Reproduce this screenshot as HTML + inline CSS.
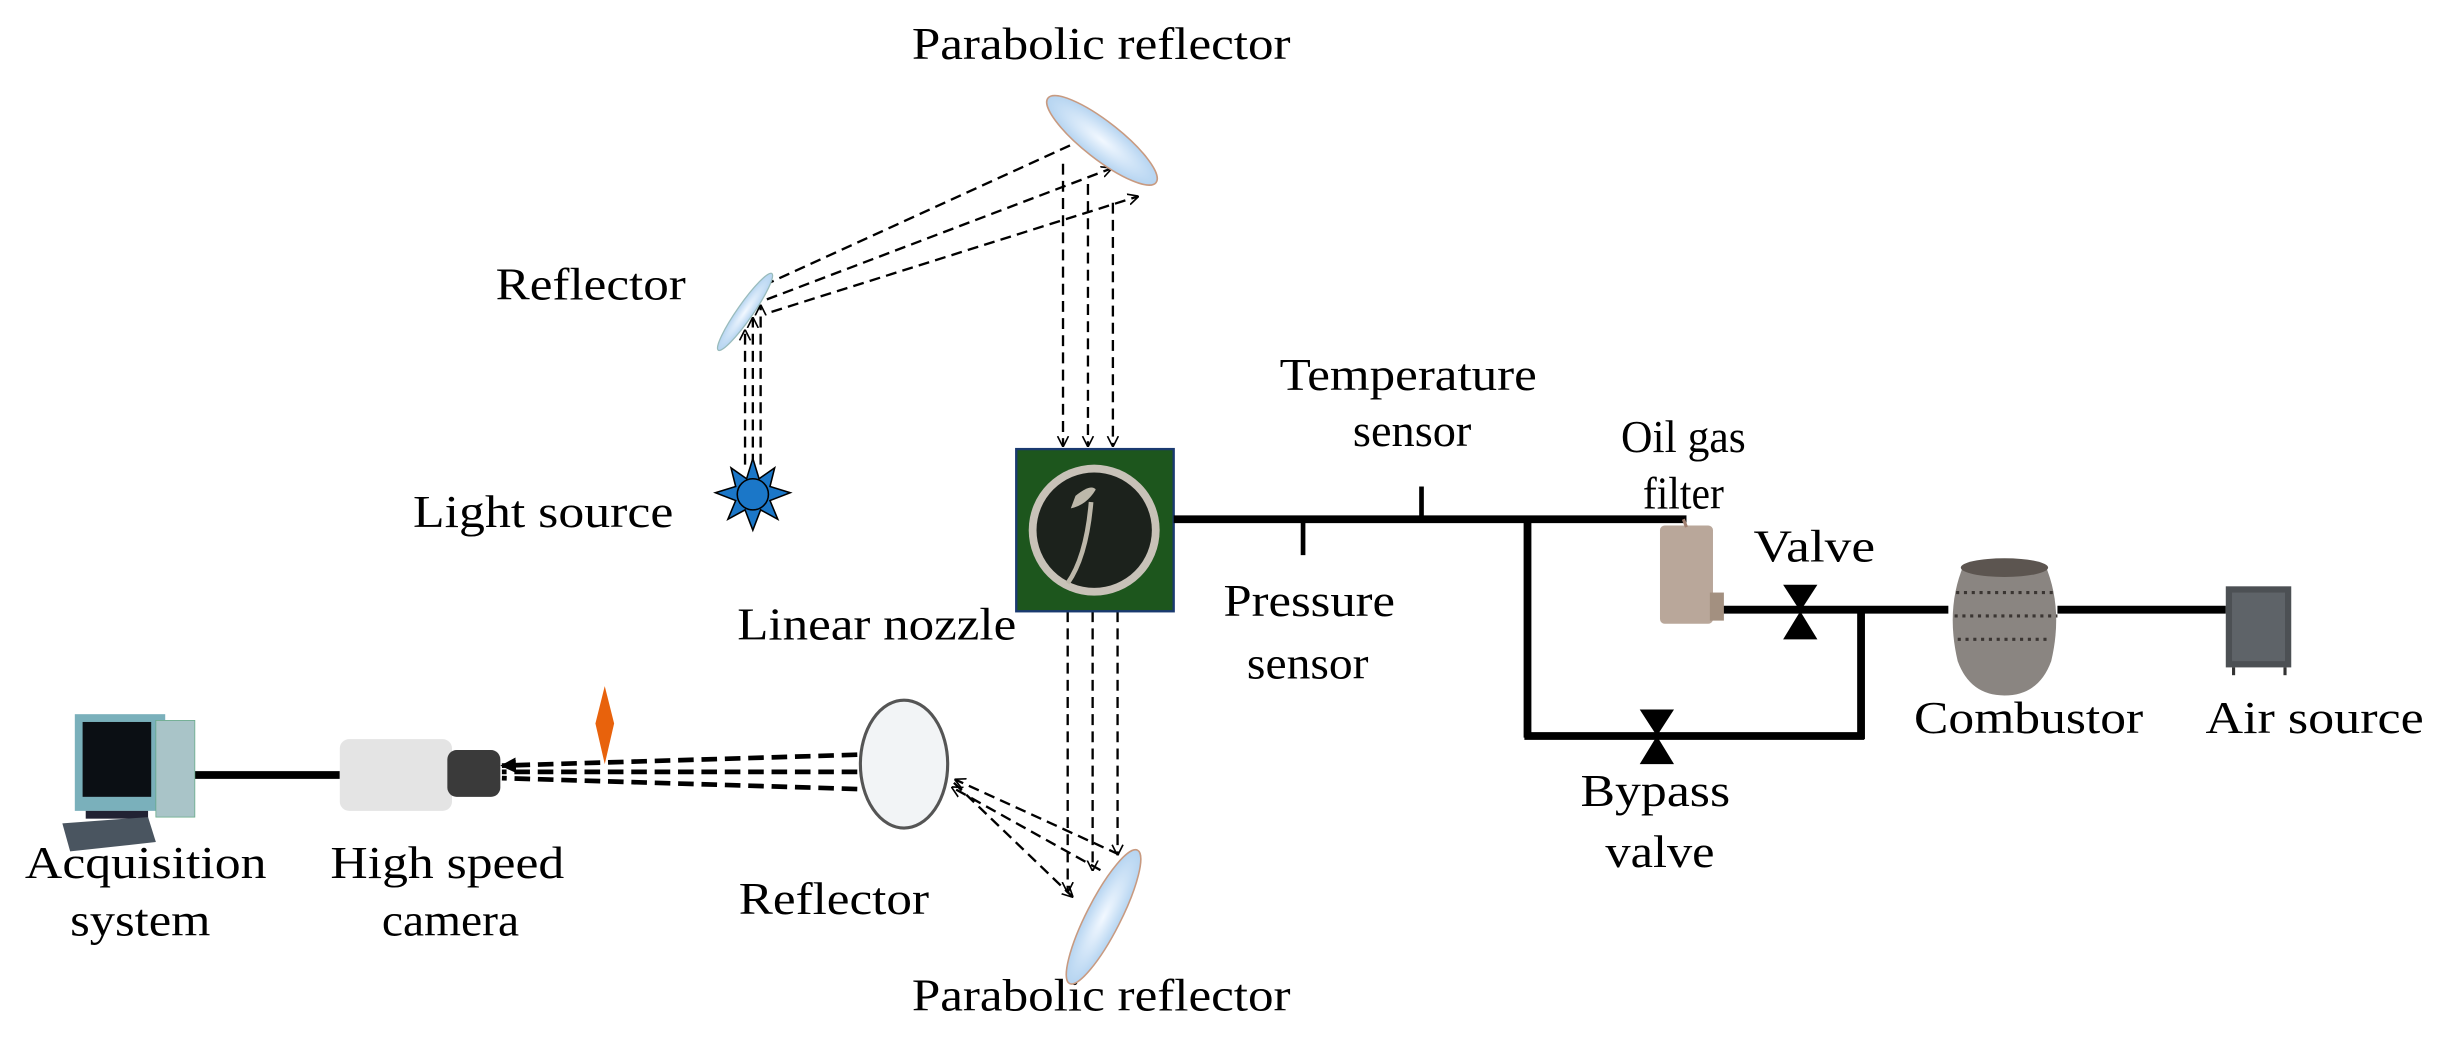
<!DOCTYPE html>
<html><head><meta charset="utf-8"><style>
html,body{margin:0;padding:0;background:#fff;}
svg{display:block;}
text{font-family:"Liberation Serif",serif;font-size:29px;fill:#000;}
</style></head><body>
<svg width="2444" height="1051" viewBox="0 0 1568 674" preserveAspectRatio="none" xmlns="http://www.w3.org/2000/svg">
<defs>
<marker id="a" viewBox="0 0 10 10" refX="9" refY="5" markerWidth="7" markerHeight="9" orient="auto" markerUnits="userSpaceOnUse"><path d="M0,0 L10,5 L0,10" fill="none" stroke="#000" stroke-width="1.5"/></marker>
<marker id="b" viewBox="0 0 10 10" refX="9" refY="5" markerWidth="10" markerHeight="10" orient="auto" markerUnits="userSpaceOnUse"><path d="M0,0 L10,5 L0,10 z" fill="#000"/></marker>
<radialGradient id="lens" cx="50%" cy="50%" r="60%"><stop offset="0" stop-color="#f2f8ff"/><stop offset="1" stop-color="#a9cdee"/></radialGradient>
</defs>
<rect width="1568" height="674" fill="#fff"/>

<g>
<text x="585" y="38" textLength="243" lengthAdjust="spacingAndGlyphs">Parabolic reflector</text>
<text x="318" y="192" textLength="122" lengthAdjust="spacingAndGlyphs">Reflector</text>
<text x="265" y="338" textLength="167" lengthAdjust="spacingAndGlyphs">Light source</text>
<text x="473" y="410" textLength="179" lengthAdjust="spacingAndGlyphs">Linear nozzle</text>
<text x="821" y="250" textLength="165" lengthAdjust="spacingAndGlyphs">Temperature</text>
<text x="868" y="286" textLength="76" lengthAdjust="spacingAndGlyphs">sensor</text>
<text x="1040" y="290" textLength="80" lengthAdjust="spacingAndGlyphs">Oil gas</text>
<text x="1054" y="326" textLength="52" lengthAdjust="spacingAndGlyphs">filter</text>
<text x="1125" y="360" textLength="78" lengthAdjust="spacingAndGlyphs">Valve</text>
<text x="785" y="395" textLength="110" lengthAdjust="spacingAndGlyphs">Pressure</text>
<text x="800" y="435" textLength="78" lengthAdjust="spacingAndGlyphs">sensor</text>
<text x="1228" y="470" textLength="147" lengthAdjust="spacingAndGlyphs">Combustor</text>
<text x="1415" y="470" textLength="140" lengthAdjust="spacingAndGlyphs">Air source</text>
<text x="1014" y="517" textLength="96" lengthAdjust="spacingAndGlyphs">Bypass</text>
<text x="1030" y="556" textLength="70" lengthAdjust="spacingAndGlyphs">valve</text>
<text x="16" y="563" textLength="155" lengthAdjust="spacingAndGlyphs">Acquisition</text>
<text x="45" y="600" textLength="90" lengthAdjust="spacingAndGlyphs">system</text>
<text x="212" y="563" textLength="150" lengthAdjust="spacingAndGlyphs">High speed</text>
<text x="245" y="600" textLength="88" lengthAdjust="spacingAndGlyphs">camera</text>
<text x="474" y="586" textLength="122" lengthAdjust="spacingAndGlyphs">Reflector</text>
<text x="585" y="648" textLength="243" lengthAdjust="spacingAndGlyphs">Parabolic reflector</text>
</g>

<g stroke="#000" stroke-width="1.5" stroke-dasharray="7,4" fill="none">
<line x1="478" y1="298" x2="478" y2="212" marker-end="url(#a)"/>
<line x1="483" y1="298" x2="483" y2="204" marker-end="url(#a)"/>
<line x1="488" y1="298" x2="488" y2="196" marker-end="url(#a)"/>
<line x1="490" y1="183" x2="698" y2="88" marker-end="url(#a)"/>
<line x1="492" y1="192" x2="713" y2="108" marker-end="url(#a)"/>
<line x1="495" y1="200" x2="730" y2="126" marker-end="url(#a)"/>
<line x1="682" y1="105" x2="682" y2="286" marker-end="url(#a)"/>
<line x1="698" y1="118" x2="698" y2="286" marker-end="url(#a)"/>
<line x1="714" y1="130" x2="714" y2="286" marker-end="url(#a)"/>
<line x1="685" y1="392" x2="685" y2="572" marker-end="url(#a)"/>
<line x1="701" y1="392" x2="701" y2="558" marker-end="url(#a)"/>
<line x1="717" y1="392" x2="717" y2="548" marker-end="url(#a)"/>
<line x1="612" y1="502" x2="688" y2="575" marker-end="url(#a)"/>
<line x1="706" y1="558" x2="611" y2="505" marker-end="url(#a)"/>
<line x1="718" y1="548" x2="613" y2="500" marker-end="url(#a)"/>
</g>
<g stroke="#000" stroke-width="3" stroke-dasharray="10,5" fill="none">
<line x1="550" y1="484" x2="322" y2="491" marker-end="url(#b)"/>
<line x1="550" y1="495" x2="322" y2="495"/>
<line x1="550" y1="506" x2="322" y2="499"/>
</g>

<ellipse cx="707" cy="90" rx="44" ry="12" transform="rotate(38 707 90)" fill="url(#lens)" stroke="#c89a80" stroke-width="1"/>
<ellipse cx="478" cy="200" rx="30" ry="5" transform="rotate(-55 478 200)" fill="url(#lens)" stroke="#9bb" stroke-width="0.8"/>
<ellipse cx="580" cy="490" rx="28" ry="41" fill="#f2f4f6" stroke="#555" stroke-width="2"/>
<ellipse cx="708" cy="588" rx="48" ry="11" transform="rotate(-63 708 588)" fill="url(#lens)" stroke="#c89a80" stroke-width="1"/>

<polygon points="483,294 487,307 497,300 494,312 507,316 494,321 499,333 488,327 483,340 478,327 467,333 472,321 459,316 472,312 469,300 479,307" fill="#1b77c8" stroke="#000" stroke-width="1"/>
<circle cx="483" cy="317" r="10" fill="#1b77c8" stroke="#000" stroke-width="1"/>

<rect x="652" y="288" width="101" height="104" fill="#1d561d" stroke="#1a3a70" stroke-width="1.5"/>
<circle cx="702" cy="340" r="42" fill="#c8c2b8"/>
<circle cx="702" cy="340" r="37" fill="#1c221c"/>
<path d="M690,318 q10,-8 13,-4 q-6,10 -16,12 z" fill="#bdb8aa"/>
<path d="M700,322 q-3,35 -15,52" stroke="#bdb8aa" stroke-width="3" fill="none"/>

<g stroke="#000" stroke-width="5" fill="none">
<line x1="753" y1="333" x2="1082" y2="333"/>
<line x1="980" y1="333" x2="980" y2="473"/>
<line x1="978" y1="472" x2="1196" y2="472"/>
<line x1="1194" y1="474" x2="1194" y2="390"/>
<line x1="1100" y1="391" x2="1250" y2="391"/>
<line x1="1320" y1="391" x2="1428" y2="391"/>
<line x1="125" y1="497" x2="218" y2="497"/>
</g>
<g stroke="#000" stroke-width="3">
<line x1="912" y1="312" x2="912" y2="333"/>
<line x1="836" y1="333" x2="836" y2="356"/>
</g>

<polygon points="1144,375 1166,375 1155,392 1166,410 1144,410 1155,392" fill="#000"/>
<polygon points="1052,455 1074,455 1063,472 1074,490 1052,490 1063,472" fill="#000"/>

<rect x="1065" y="337" width="34" height="63" rx="3" fill="#b9a79a"/>
<rect x="1097" y="380" width="9" height="18" fill="#a39080"/>
<line x1="1080" y1="333" x2="1082" y2="338" stroke="#a08070" stroke-width="2"/>

<path d="M1260,362 h52 q12,28 4,62 q-8,22 -30,22 q-22,0 -30,-22 q-8,-34 4,-62 z" fill="#8a8581"/>
<ellipse cx="1286" cy="364" rx="28" ry="6" fill="#5c5550"/>
<g stroke="#3a3532" stroke-width="2" stroke-dasharray="2,3"><line x1="1255" y1="380" x2="1318" y2="380"/><line x1="1254" y1="395" x2="1320" y2="395"/><line x1="1256" y1="410" x2="1316" y2="410"/></g>

<rect x="1428" y="376" width="42" height="52" fill="#4c5054"/>
<rect x="1432" y="380" width="34" height="44" fill="#5e6368"/>
<line x1="1433" y1="428" x2="1433" y2="433" stroke="#333" stroke-width="2"/>
<line x1="1466" y1="428" x2="1466" y2="433" stroke="#333" stroke-width="2"/>

<rect x="48" y="458" width="58" height="62" fill="#7ab0bb"/>
<rect x="53" y="463" width="44" height="48" fill="#0b0f14"/>
<rect x="100" y="462" width="25" height="62" fill="#a9c4c8" stroke="#6a8" stroke-width="0.5"/>
<rect x="55" y="520" width="40" height="5" fill="#223"/>
<polygon points="40,528 95,524 100,540 45,546" fill="#4a5560"/>

<rect x="218" y="474" width="72" height="46" rx="6" fill="#e4e4e4"/>
<rect x="287" y="481" width="34" height="30" rx="6" fill="#3a3a3a"/>

<polygon points="388,440 394,464 388,490 382,464" fill="#e8620c"/>
</svg>
</body></html>
